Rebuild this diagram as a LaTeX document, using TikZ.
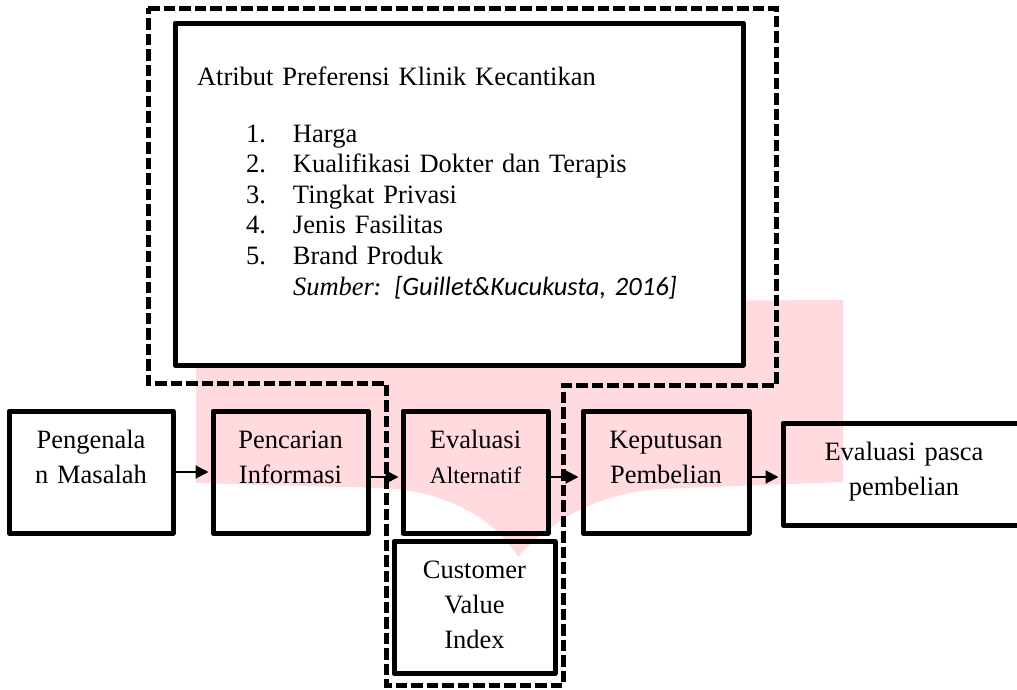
\documentclass[tikz,border=0pt]{standalone}
\usepackage{fontspec}
\setmainfont{Liberation Serif}
\newfontfamily\calibrifont{Carlito}
\usepackage{tikz}
\usetikzlibrary{arrows.meta}

\definecolor{watermark}{RGB}{255,218,222}

\begin{document}
\begin{tikzpicture}[x=1pt, y=-1pt,
	stage/.style={draw=black, line width=5pt, line join=round, inner sep=0pt, align=center, font=\fontsize{26.5}{35}\selectfont, text height=37pt},
	flow/.style={-{Triangle[length=13pt,width=13pt]}, line width=2pt, shorten >=2pt},
	frame/.style={line width=5pt, dash pattern=on 11.5pt off 4pt}]
	
	\clip (0,0) rectangle (1017,689);
	
	\fill[watermark] (196,303) -- (843,300) -- (843,482) -- (660,489) .. controls (610,493) and (560,510) .. (518,557) .. controls (495,520) and (450,492) .. (384,488) -- (196,483) -- cycle;
	
	\draw[frame] (148,8) -- (776,8) -- (776,385) -- (563,385) -- (563,685) -- (386,685) -- (386,383) -- (148,383) -- cycle;
	
	\node[draw=black, line width=5pt, line join=round, fill=white, inner xsep=22pt, inner ysep=0pt, text width=524pt, align=left, text height=62pt, text depth=280pt, font=\fontsize{26.5}{30.6}\selectfont] (atribut) at (459, 194) {Atribut Preferensi Klinik Kecantikan\\[26.4pt]
		\hspace*{49pt}\makebox[47pt][l]{1.}Harga\\
		\hspace*{49pt}\makebox[47pt][l]{2.}Kualifikasi Dokter dan Terapis\\
		\hspace*{49pt}\makebox[47pt][l]{3.}Tingkat Privasi\\
		\hspace*{49pt}\makebox[47pt][l]{4.}Jenis Fasilitas\\
		\hspace*{49pt}\makebox[47pt][l]{5.}Brand Produk\\
		\hspace*{96pt}{\itshape Sumber}{\calibrifont\itshape : [Guillet\&Kucukusta, 2016]}};
	
	\node[stage, text width=164pt, text depth=85pt] (masalah) at (91, 472)     {Pengenala\\n Masalah};
	\node[stage, text width=155pt, text depth=85pt] (pencarian) at (290.5, 472)     {Pencarian\\Informasi};
	\node[stage, text width=145pt, text depth=85pt] (alternatif) at (475.5, 472)     {Evaluasi\\{\fontsize{23.5}{35}\selectfont Alternatif}};
	\node[stage, text width=161pt, text depth=95pt] (cvi) at (474.5, 607.5)     {Customer\\Value\\Index};
	\node[stage, text width=166pt, text depth=85pt] (keputusan) at (666, 472)     {Keputusan\\Pembelian};
	\node[stage, text width=242pt, text depth=65pt] (pasca) at (904, 474)     {Evaluasi pasca\\pembelian};
	
	\path[flow] (masalah) edge (pencarian);
	\path[flow] ([yshift=-5pt]pencarian.east) edge ([yshift=-5pt]alternatif.west);
	\path[flow] ([yshift=-5pt]alternatif.east) edge ([yshift=-5pt]keputusan.west);
	\path[flow] ([yshift=-5pt]keputusan.east) edge ([yshift=-5pt]keputusan.east -| pasca.west);
	
\end{tikzpicture}
\end{document}
